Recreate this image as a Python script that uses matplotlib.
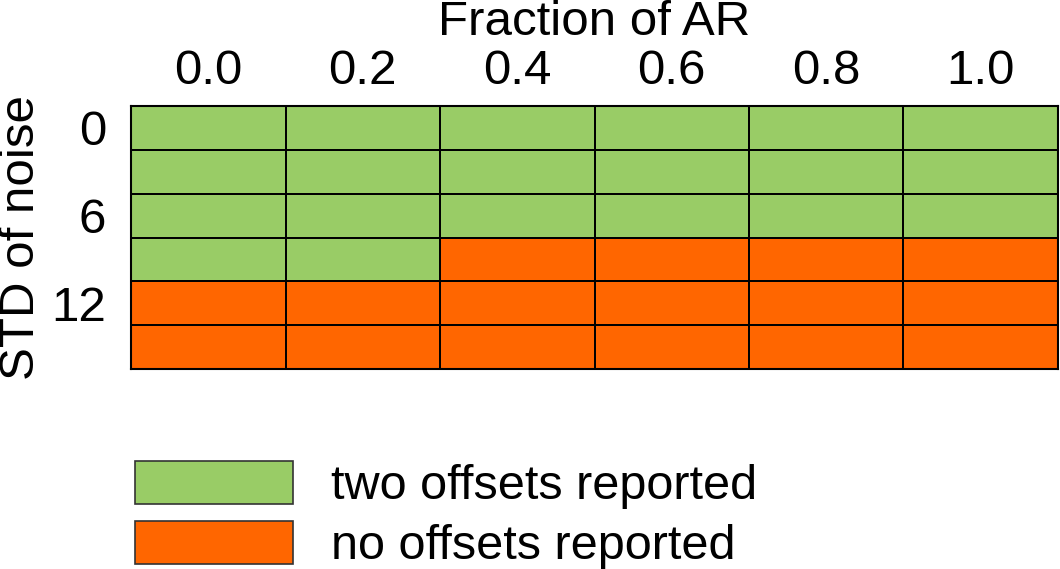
import numpy as np
import matplotlib.pyplot as plt
from matplotlib.colors import ListedColormap
from matplotlib.patches import Patch

plt.rcParams['font.family'] = ['Liberation Sans', 'DejaVu Sans']

# fraction of AR (columns) and noise std (rows)
fractions = ['0.0', '0.2', '0.4', '0.6', '0.8', '1.0']
noise_std = [0, 3, 6, 9, 12, 15]
noise_labels = ['0', '6', '12']
# 1 = two offsets reported, 0 = no offsets reported
result = np.array([
    [1, 1, 1, 1, 1, 1],
    [1, 1, 1, 1, 1, 1],
    [1, 1, 1, 1, 1, 1],
    [1, 1, 0, 0, 0, 0],
    [0, 0, 0, 0, 0, 0],
    [0, 0, 0, 0, 0, 0],
])
labels = ['two offsets reported', 'no offsets reported']

green = '#99CC66'
orange = '#FF6600'
fs = 35.5

fig = plt.figure(figsize=(10.6, 5.69), dpi=100)
ax = fig.add_axes([0.1236, 0.3515, 0.8745, 0.4622])

ax.pcolormesh(result, cmap=ListedColormap([orange, green]), vmin=0, vmax=1,
              edgecolor='black', linewidth=1.2)
ax.set_xlim(0, len(fractions))
ax.set_ylim(len(noise_std), 0)

ax.xaxis.tick_top()
ax.xaxis.set_label_position('top')
ax.set_xticks(np.arange(len(fractions)) + 0.5)
ax.set_xticklabels(fractions, fontsize=fs)
ax.set_yticks([0.5, 2.5, 4.5])
ax.set_yticklabels(noise_labels, fontsize=fs)
ax.tick_params(axis='x', length=0, pad=9)
ax.tick_params(axis='y', length=0, pad=18)
ax.set_xlabel('Fraction of AR', fontsize=fs, labelpad=10)
ax.set_ylabel('STD of noise', fontsize=fs, labelpad=5)
for s in ax.spines.values():
    s.set_linewidth(1.5)

handles = [Patch(facecolor=green, edgecolor='#333333', linewidth=1.2),
           Patch(facecolor=orange, edgecolor='#333333', linewidth=1.2)]
fig.legend(handles, labels, loc='upper left', bbox_to_anchor=(0.127, 0.19),
           frameon=False, fontsize=35, handlelength=3.25, handleheight=0.98,
           labelspacing=0.25, handletextpad=0.78, borderaxespad=0, borderpad=0)

fig.savefig('out.png', dpi=100)
